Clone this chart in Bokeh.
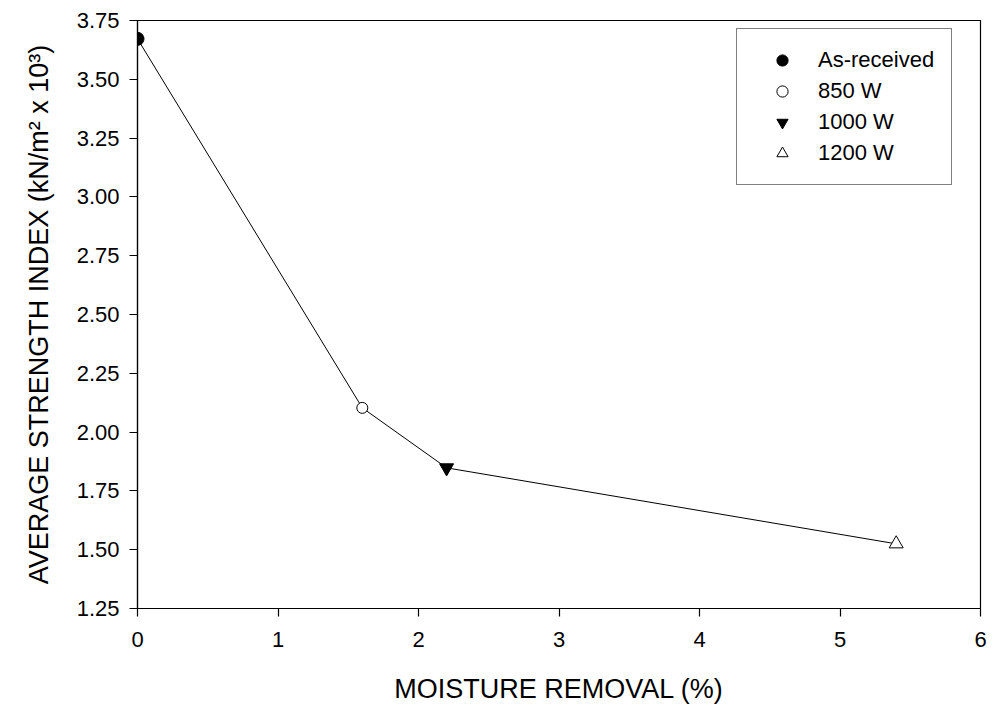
from bokeh.plotting import figure
from bokeh.embed import file_html
from bokeh.resources import INLINE
from bokeh.models import Range1d, FixedTicker, Legend, LegendItem

# data
moisture = [0.0, 1.6, 2.2, 5.4]
strength = [3.672, 2.103, 1.848, 1.525]
labels = ["As-received", "850 W", "1000 W", "1200 W"]
x_ticks = [0, 1, 2, 3, 4, 5, 6]
y_ticks = [1.25, 1.50, 1.75, 2.00, 2.25, 2.50, 2.75, 3.00, 3.25, 3.50, 3.75]

FONT = "Liberation Sans"

p = figure(width=1000, height=710, output_backend="svg", toolbar_location=None,
           x_range=Range1d(0, 6), y_range=Range1d(1.25, 3.75),
           min_border_left=137, min_border_right=20, min_border_top=20, min_border_bottom=102)
p.xgrid.visible = False
p.ygrid.visible = False
p.outline_line_color = "black"
p.outline_line_width = 1.2
p.background_fill_color = "white"
p.border_fill_color = "white"

for ax in (p.xaxis[0], p.yaxis[0]):
    ax.axis_line_color = "black"
    ax.axis_line_width = 1.2
    ax.major_tick_line_color = "black"
    ax.major_tick_line_width = 1.2
    ax.major_tick_out = 8
    ax.major_tick_in = 0
    ax.minor_tick_line_color = None
    ax.major_label_text_font = FONT
    ax.major_label_text_font_size = "22px"
    ax.major_label_text_color = "black"
    ax.axis_label_text_font = FONT
    ax.axis_label_text_font_size = "27px"
    ax.axis_label_text_font_style = "normal"
    ax.axis_label_text_color = "black"

p.xaxis.ticker = FixedTicker(ticks=x_ticks)
p.yaxis.ticker = FixedTicker(ticks=y_ticks)
p.yaxis.major_label_overrides = {t: f"{t:.2f}" for t in y_ticks}
p.xaxis.major_label_standoff = 15
p.yaxis.major_label_standoff = 10
p.xaxis.axis_label = "MOISTURE REMOVAL (%)"
p.yaxis.axis_label = "AVERAGE STRENGTH INDEX (kN/m\u00b2 x 10\u00b3)"
p.xaxis.axis_label_standoff = 24
p.yaxis.axis_label_standoff = 20

p.line(moisture, strength, line_color="black", line_width=1)

styles = [
    dict(marker="circle", size=13, fill_color="black", line_color="black"),
    dict(marker="circle", size=11, fill_color="white", line_color="black"),
    dict(marker="inverted_triangle", size=14, fill_color="black", line_color="black"),
    dict(marker="triangle", size=14, fill_color="white", line_color="black"),
]
items = []
for i, st in enumerate(styles):
    r = p.scatter([moisture[i]], [strength[i]], line_width=1, **st)
    items.append(LegendItem(label=labels[i], renderers=[r]))

legend = Legend(items=items, location=(599, 423))
legend.label_text_font = FONT
legend.label_text_font_size = "22px"
legend.label_text_color = "black"
legend.padding = 17
legend.spacing = 3
legend.glyph_height = 28
legend.glyph_width = 56
legend.label_standoff = 8
legend.label_height = 28
legend.border_line_color = "black"
legend.border_line_width = 1.2
legend.margin = 0
legend.background_fill_alpha = 1
p.add_layout(legend, "center")

open("out.html", "w").write(file_html(p, INLINE))
